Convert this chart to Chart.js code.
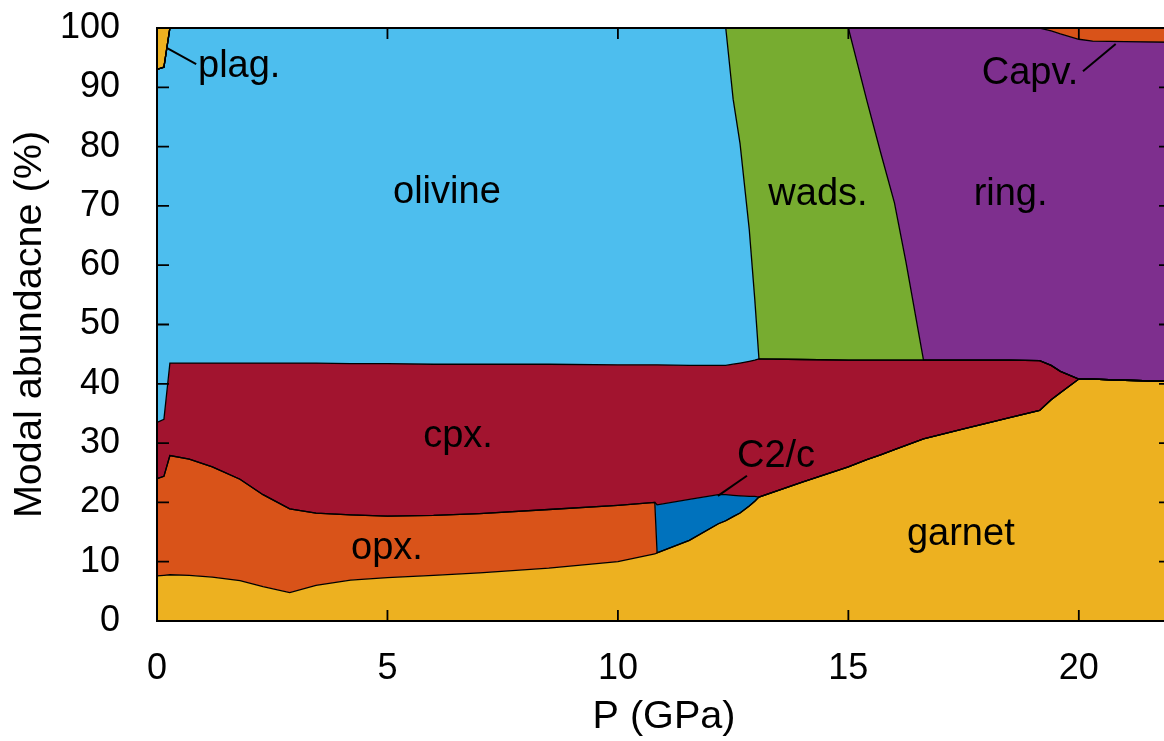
<!DOCTYPE html>
<html>
<head>
<meta charset="utf-8">
<script src="https://cdn.jsdelivr.net/npm/chart.js@4.4.1/dist/chart.umd.min.js"></script>
<style>
  html, body { margin: 0; padding: 0; background: #fff; overflow: hidden; }
  canvas { display: block; }
</style>
</head>
<body>
<canvas id="chart" width="1180" height="741"></canvas>
<script>
// Pressure grid (GPa) and modal abundance (%) of each phase at every pressure.
const pressure = [0, 0.15, 0.28, 0.7, 1.2, 1.8, 2.3, 2.88, 3.45, 4.2, 5.0, 6.0, 7.0, 8.5, 10.0, 10.8, 10.85, 11.55, 12.18, 12.34,
                  12.5, 12.65, 12.85, 12.97, 13.06, 14.0, 15.0, 15.4, 15.7, 16.0, 16.25, 16.63, 17.5, 18.5, 19.15, 19.4, 19.6, 20.0, 20.3, 21.0, 22.0];

const garnet  = [7.6, 7.7, 7.8, 7.7, 7.4, 6.8, 5.8, 4.8, 6.0, 6.9, 7.3, 7.7, 8.1, 8.9, 10.0, 11.3, 11.5, 13.6, 16.4, 16.9,
                 17.6, 18.2, 19.4, 20.2, 20.9, 23.4, 26.0, 27.2, 28.0, 28.9, 29.6, 30.7, 32.4, 34.3, 35.5, 37.3, 38.5, 40.8, 40.8, 40.6, 40.4];
const opx     = [16.4, 16.7, 20.1, 19.6, 18.6, 17.1, 15.5, 14.1, 12.2, 11.0, 10.4, 10.1, 10.0, 9.9, 9.5, 8.7, 0, 0, 0, 0,
                 0, 0, 0, 0, 0, 0, 0, 0, 0, 0, 0, 0, 0, 0, 0, 0, 0, 0, 0, 0, 0];
const c2c     = [0, 0, 0, 0, 0, 0, 0, 0, 0, 0, 0, 0, 0, 0, 0, 0, 8.1, 6.9, 4.9, 4.4,
                 3.6, 2.9, 1.6, 0.8, 0, 0, 0, 0, 0, 0, 0, 0, 0, 0, 0, 0, 0, 0, 0, 0, 0];
const cpx     = [9.5, 9.6, 15.6, 16.2, 17.5, 19.6, 22.2, 24.6, 25.3, 25.5, 25.7, 25.5, 25.2, 24.5, 23.7, 23.2, 23.6, 22.6, 21.8, 21.8,
                 22.1, 22.4, 22.8, 23.0, 23.3, 20.7, 18.0, 16.8, 16.0, 15.1, 14.4, 13.3, 11.6, 9.7, 8.4, 5.8, 3.6, 0, 0, 0, 0];
const olivine = [59.5, 59.4, 56.5, 56.5, 56.5, 56.5, 56.5, 56.5, 56.5, 56.6, 56.6, 56.7, 56.7, 56.7, 56.8, 56.8, 56.8, 56.9, 56.9, 56.9,
                 44.7, 37.0, 22.2, 10.2, 0, 0, 0, 0, 0, 0, 0, 0, 0, 0, 0, 0, 0, 0, 0, 0, 0];
const wads    = [0, 0, 0, 0, 0, 0, 0, 0, 0, 0, 0, 0, 0, 0, 0, 0, 0, 0, 0, 0,
                 12.0, 19.5, 34.0, 45.8, 55.8, 55.9, 56.0, 43.8, 35.0, 26.5, 16.5, 0, 0, 0, 0, 0, 0, 0, 0, 0, 0];
const ring    = [0, 0, 0, 0, 0, 0, 0, 0, 0, 0, 0, 0, 0, 0, 0, 0, 0, 0, 0, 0,
                 0, 0, 0, 0, 0, 0, 0, 12.2, 21.0, 29.5, 39.5, 56.0, 56.0, 56.0, 56.1, 56.4, 56.9, 57.3, 57.0, 57.1, 57.2];
const capv    = [0, 0, 0, 0, 0, 0, 0, 0, 0, 0, 0, 0, 0, 0, 0, 0, 0, 0, 0, 0,
                 0, 0, 0, 0, 0, 0, 0, 0, 0, 0, 0, 0, 0, 0, 0, 0.5, 1.0, 1.9, 2.2, 2.3, 2.4];
const plag    = [7.0, 6.6, 0, 0, 0, 0, 0, 0, 0, 0, 0, 0, 0, 0, 0, 0, 0, 0, 0, 0,
                 0, 0, 0, 0, 0, 0, 0, 0, 0, 0, 0, 0, 0, 0, 0, 0, 0, 0, 0, 0, 0];

const xTicks = [0, 5, 10, 15, 20];
const yTicks = [0, 10, 20, 30, 40, 50, 60, 70, 80, 90, 100];

// Stacking order, bottom to top
const phases = [
  { name: 'garnet',  values: garnet,  color: '#EDB120' },
  { name: 'opx.',    values: opx,     color: '#D95319' },
  { name: 'C2/c',    values: c2c,     color: '#0072BD' },
  { name: 'cpx.',    values: cpx,     color: '#A2142F' },
  { name: 'olivine', values: olivine, color: '#4DBEEE' },
  { name: 'wads.',   values: wads,    color: '#77AC30' },
  { name: 'ring.',   values: ring,    color: '#7E2F8E' },
  { name: 'Capv.',   values: capv,    color: '#D95319' },
  { name: 'plag.',   values: plag,    color: '#EDB120' }
];

// In-plot phase names (data coordinates) and their leader lines
const phaseLabels = [
  { text: 'plag.',   p: 0.89,  v: 93.5, align: 'left' },
  { text: 'olivine', p: 6.29,  v: 72.3 },
  { text: 'wads.',   p: 14.34, v: 72.0 },
  { text: 'ring.',   p: 18.52, v: 72.0 },
  { text: 'Capv.',   p: 18.94, v: 92.4 },
  { text: 'cpx.',    p: 6.53,  v: 31.1 },
  { text: 'opx.',    p: 4.99,  v: 12.3 },
  { text: 'C2/c',    p: 13.43, v: 27.7 },
  { text: 'garnet',  p: 17.44, v: 14.5 }
];
const leaders = [
  [[0.22, 96.6], [0.85, 93.9]],
  [[20.09, 92.7], [20.8, 97.3]],
  [[12.8, 24.5], [12.17, 21.1]]
];

const FONT = '"Liberation Sans", Arial, Helvetica, sans-serif';

// Cumulative tops of each stacked phase
const running = pressure.map(() => 0);
const datasets = phases.map((ph, k) => {
  const pts = pressure.map((p, i) => {
    running[i] += ph.values[i];
    return { x: p, y: running[i] };
  });
  return {
    label: ph.name,
    data: pts,
    backgroundColor: ph.color,
    borderColor: '#000',
    borderWidth: 1.3,
    pointRadius: 0,
    tension: 0,
    fill: k === 0 ? 'origin' : '-1'
  };
});

// Frame, inward ticks, phase names and leader lines
const overlay = {
  id: 'overlay',
  afterDatasetsDraw(chart) {
    const { ctx, chartArea: a, scales: { x, y } } = chart;
    ctx.save();
    ctx.fillStyle = '#000';
    ctx.font = '38px ' + FONT;
    ctx.textBaseline = 'middle';
    phaseLabels.forEach(t => {
      ctx.textAlign = t.align || 'center';
      ctx.fillText(t.text, x.getPixelForValue(t.p), y.getPixelForValue(t.v));
    });
    ctx.strokeStyle = '#000';
    ctx.lineWidth = 2;
    leaders.forEach(([s, e]) => {
      ctx.beginPath();
      ctx.moveTo(x.getPixelForValue(s[0]), y.getPixelForValue(s[1]));
      ctx.lineTo(x.getPixelForValue(e[0]), y.getPixelForValue(e[1]));
      ctx.stroke();
    });
    ctx.lineWidth = 1.8;
    ctx.beginPath();
    yTicks.forEach(v => {
      const py = y.getPixelForValue(v);
      ctx.moveTo(a.left, py); ctx.lineTo(a.left + 12, py);
      ctx.moveTo(a.right, py); ctx.lineTo(a.right - 12, py);
    });
    xTicks.forEach(v => {
      const px = x.getPixelForValue(v);
      ctx.moveTo(px, a.bottom); ctx.lineTo(px, a.bottom - 11);
      ctx.moveTo(px, a.top); ctx.lineTo(px, a.top + 11);
    });
    ctx.stroke();
    ctx.lineWidth = 2;
    ctx.strokeRect(a.left, a.top, a.right - a.left, a.bottom - a.top);
    ctx.restore();
  }
};

Chart.defaults.color = '#000';
Chart.defaults.font.family = FONT;

new Chart(document.getElementById('chart'), {
  type: 'line',
  data: { datasets },
  options: {
    responsive: false,
    animation: false,
    devicePixelRatio: 1,
    layout: { padding: { top: 28, right: 9, left: 0, bottom: 0 } },
    plugins: {
      legend: { display: false },
      tooltip: { enabled: false },
      filler: { drawTime: 'beforeDatasetsDraw' }
    },
    scales: {
      x: {
        type: 'linear',
        min: 0, max: 22,
        afterBuildTicks(s) { s.ticks = xTicks.map(v => ({ value: v })); },
        afterFit(s) { s.height = 120; s.paddingLeft = 0; s.paddingRight = 0; },
        ticks: { padding: 26, font: { size: 36 }, maxRotation: 0, autoSkip: false },
        grid: { display: false, drawTicks: false },
        border: { display: false },
        title: { display: true, text: 'P (GPa)', font: { size: 39.6 }, padding: { top: 0, bottom: 0 } }
      },
      y: {
        min: 0, max: 100,
        afterBuildTicks(s) { s.ticks = yTicks.map(v => ({ value: v })); },
        afterFit(s) { s.width = 157; s.paddingTop = 0; s.paddingBottom = 0; },
        ticks: { padding: 37, font: { size: 36 }, autoSkip: false },
        grid: { display: false, drawTicks: false },
        border: { display: false },
        title: { display: true, text: 'Modal abundacne (%)', font: { size: 39.6 }, padding: { top: 6, bottom: 0 } }
      }
    }
  },
  plugins: [overlay]
});
</script>
</body>
</html>
